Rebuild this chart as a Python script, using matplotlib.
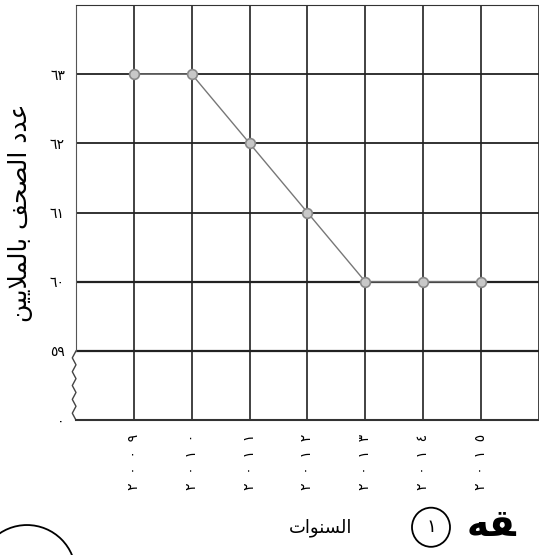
import matplotlib.pyplot as plt
from matplotlib.patches import Circle, Arc
import matplotlib.transforms as mtransforms

# years (Arabic-Indic digits) and newspapers in millions
years = ['٢٠٠٩', '٢٠١٠', '٢٠١١', '٢٠١٢', '٢٠١٣', '٢٠١٤', '٢٠١٥']
papers = [63, 63, 62, 61, 60, 60, 60]

y_ticks = [58, 59, 60, 61, 62, 63]
y_ticklabels = ['٠', '٥٩', '٦٠', '٦١', '٦٢', '٦٣']

# arabic labels, pre-shaped in visual order (matplotlib has no shaping)
y_label = 'ﻦﻴﻳﻼﻤﻟﺎﺑ ﻒﺤﺼﻟﺍ ﺩﺪﻋ'
x_label = 'ﺕﺍﻮﻨﺴﻟﺍ'

fig = plt.figure(figsize=(5.39, 5.55), dpi=100)
ax = fig.add_axes([0.141, 0.243, 0.859, 0.748])

x = list(range(len(years)))
ax.plot(x, papers, color='#777777', lw=1.0, zorder=3)
ax.plot(x, papers, 'o', ms=7, mfc='#c8c8c8', mec='#888888', mew=1.2, zorder=4)

ax.set_xlim(-1, 7)
ax.set_ylim(58, 64)
ax.set_xticks(x)
# the scan shows the year digits spread out
ax.set_xticklabels(['  '.join(y) for y in years], rotation=90, fontsize=10,
                   family='DejaVu Sans')
ax.set_yticks(y_ticks)
ax.set_yticklabels(y_ticklabels, fontsize=10, family='DejaVu Sans')
ax.tick_params(axis='x', length=0, pad=10)
ax.tick_params(axis='y', length=0, pad=8)

# grid
for xv in x + [7]:
    ax.axvline(xv, color='#333333', lw=1.3, zorder=1)
for yv in [59, 60, 61, 62, 63]:
    ax.axhline(yv, color='#222222', lw=1.6 if yv in (59, 60) else 1.3, zorder=1)

ax.spines['right'].set_visible(False)
ax.spines['top'].set_color('#333333')
ax.spines['bottom'].set_color('#333333')
ax.spines['bottom'].set_linewidth(1.5)
ax.spines['left'].set_bounds(59, 64)
ax.spines['left'].set_color('#555555')
ax.spines['left'].set_linestyle((0, (2, 1)))

# zigzag axis break
trans = mtransforms.blended_transform_factory(ax.transAxes, ax.transData)
zx, zy = [], []
n = 10
for i in range(n + 1):
    zy.append(59 - i / n)
    zx.append(0.0 if i % 2 == 0 else -0.008)
ax.plot(zx, zy, color='#444444', lw=1.0, transform=trans, clip_on=False)

ax.set_ylabel(y_label, fontsize=18, family='DejaVu Sans', labelpad=12)
fig.text(0.595, 0.05, x_label, fontsize=13, family='DejaVu Sans',
         ha='center', va='center')

# page decorations from the scan
fig.text(0.866, 0.052, 'ﻪﻘ', fontsize=27, fontweight='bold', family='DejaVu Sans',
         ha='left', va='center')
fig.patches.append(Circle((431 / 539, 0.05), 19 / 539, transform=fig.transFigure,
                          fill=False, lw=1.3, ec='black'))
fig.text(431 / 539, 0.05, '١', fontsize=13, family='DejaVu Sans', ha='center', va='center')
fig.patches.append(Arc((0.05, -0.034), 0.181, 0.176, theta1=0, theta2=180,
                       transform=fig.transFigure, lw=1.3, ec='black'))

fig.savefig('out.png', dpi=100)
